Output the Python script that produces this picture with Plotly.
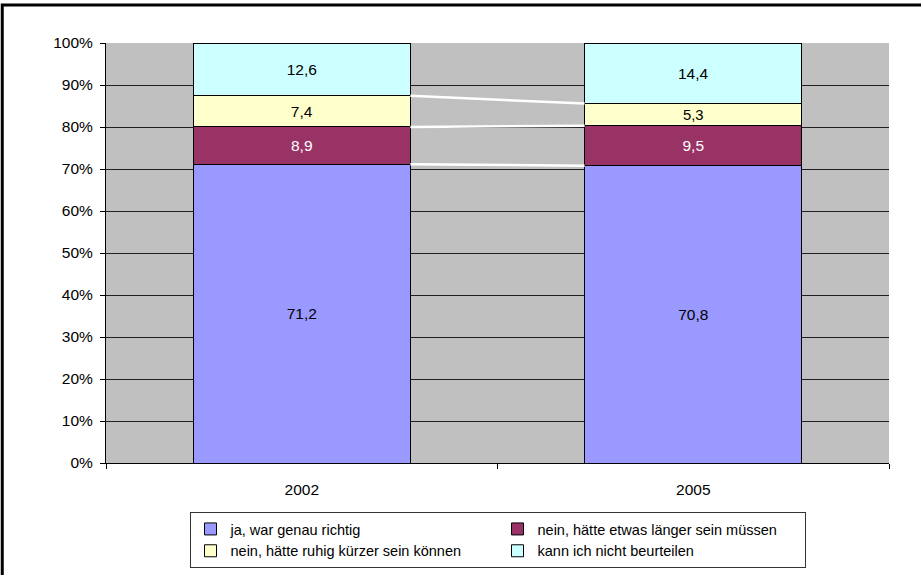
import plotly.graph_objects as go

years = ["2002", "2005"]
series_names = [
    "ja, war genau richtig",
    "nein, hätte etwas länger sein müssen",
    "nein, hätte ruhig kürzer sein können",
    "kann ich nicht beurteilen",
]
ja = [71.2, 70.8]
laenger = [8.9, 9.5]
kuerzer = [7.4, 5.3]
kann_nicht = [12.6, 14.4]
tick_vals = [0, 10, 20, 30, 40, 50, 60, 70, 80, 90, 100]
tick_text = [f"{v}%" for v in tick_vals]

values = [ja, laenger, kuerzer, kann_nicht]
colors = ["#9999FF", "#993366", "#FFFFCC", "#CCFFFF"]
text_colors = ["black", "white", "black", "black"]

x_pos = [0, 1]
bar_w = 0.555
FONT = "Liberation Sans, Arial"
FS = 15.5

totals = [sum(v[i] for v in values) for i in range(len(years))]
norm = [[v[i] / totals[i] * 100 for i in range(len(years))] for v in values]

fig = go.Figure()
for name, vals, nv, col, tc in zip(series_names, values, norm, colors, text_colors):
    fig.add_trace(go.Bar(
        x=x_pos, y=nv, name=name, width=bar_w,
        marker=dict(color=col, line=dict(color="black", width=1)),
        text=[f"{v:.1f}".replace(".", ",") for v in vals],
        textposition="inside", insidetextanchor="middle",
        textfont=dict(color=tc, size=FS, family=FONT),
        hoverinfo="skip",
    ))

# series lines (white) connecting stack boundaries
cum = [0.0, 0.0]
for k in range(len(values) - 1):
    cum = [cum[i] + norm[k][i] for i in range(2)]
    fig.add_trace(go.Scatter(
        x=[x_pos[0] + bar_w / 2, x_pos[1] - bar_w / 2], y=cum,
        mode="lines", line=dict(color="white", width=2.5),
        showlegend=False, hoverinfo="skip",
    ))

fig.update_layout(
    width=921, height=575,
    barmode="stack",
    plot_bgcolor="#C0C0C0",
    paper_bgcolor="white",
    margin=dict(l=106, r=32, t=43, b=112),
    font=dict(family=FONT, size=FS, color="black"),
    showlegend=True,
    legend=dict(
        orientation="h", x=0.5, xanchor="center",
        yref="container", y=1 - 512 / 575, yanchor="top",
        entrywidth=262, bordercolor="#333333", borderwidth=1,
        font=dict(size=14.5), traceorder="normal", itemclick=False,
        tracegroupgap=0,
    ),
    xaxis=dict(
        range=[-0.5, 1.5], tickvals=x_pos, ticktext=years,
        showgrid=False, zeroline=False, showline=True, linecolor="black",
        ticks="", tickfont=dict(size=FS), ticklabelstandoff=12,
    ),
    xaxis2=dict(
        overlaying="x", range=[-0.5, 1.5], tickvals=[-0.5, 0.5, 1.5],
        showticklabels=False, ticks="outside", ticklen=5, tickcolor="black",
        showgrid=False, zeroline=False, side="bottom", anchor="y",
    ),
    yaxis=dict(
        range=[0, 100], tickvals=tick_vals, ticktext=tick_text,
        showgrid=True, gridcolor="#202020", gridwidth=1,
        zeroline=False, showline=True, linecolor="black",
        ticks="outside", ticklen=5, tickcolor="black", tickfont=dict(size=FS),
        ticklabelstandoff=4,
    ),
    shapes=[dict(
        type="rect", xref="paper", yref="paper",
        x0=-0.1325, x1=1.1, y0=-0.3, y1=1.0905,
        line=dict(color="black", width=3), fillcolor="rgba(0,0,0,0)",
        layer="above",
    )],
)
fig.add_trace(go.Scatter(x=[None], y=[None], xaxis="x2", showlegend=False, hoverinfo="skip"))

fig.write_html(
    "out.html",
    config={"displayModeBar": False},
    post_script="document.body.style.margin='0';document.body.style.overflow='hidden';",
)
